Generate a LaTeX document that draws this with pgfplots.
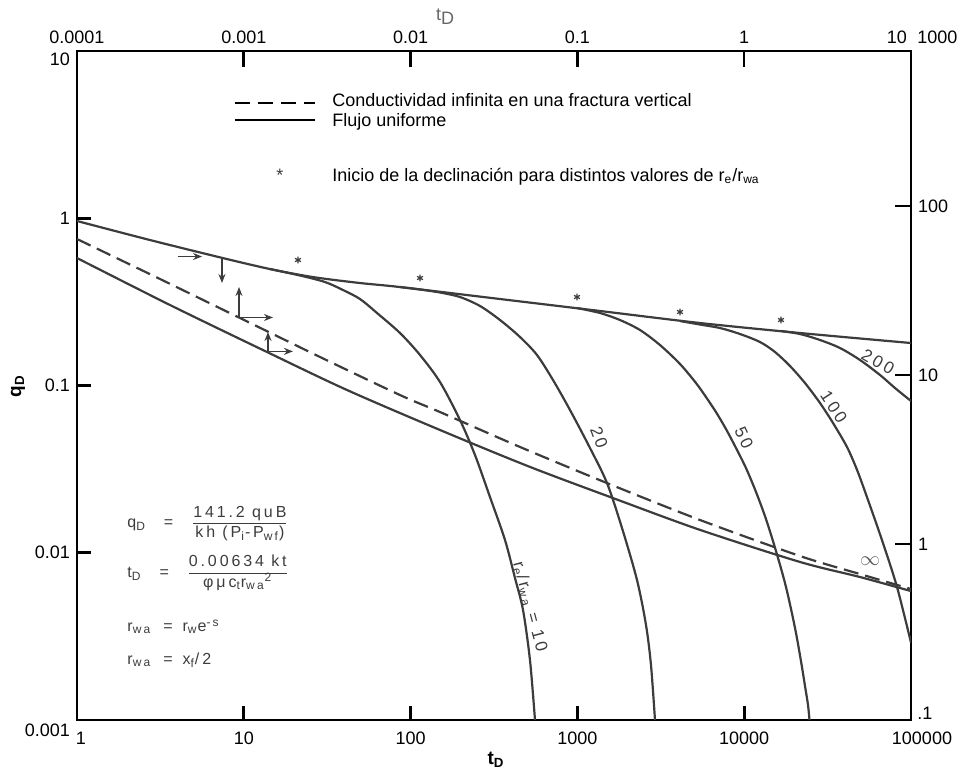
\documentclass[border=0pt]{standalone}
\usepackage{fontspec}
\setmainfont{Liberation Sans}
\newfontfamily\spaced[LetterSpace=18]{Liberation Sans}
\usepackage{pgfplots}
\pgfplotsset{compat=1.18}
\usetikzlibrary{arrows.meta}
\definecolor{ink}{HTML}{3C3C3C}
\tikzset{typecurve/.style={ink, line width=1.1pt, smooth, tension=0.5}}

\begin{document}
\begin{tikzpicture}[font=\fontsize{9}{11}\selectfont]
\useasboundingbox (-38.5pt,-28pt) rectangle (444pt,360pt);

% secondary scales (top and right)
\begin{loglogaxis}[
  at={(0,0)}, anchor=south west,
  scale only axis, width=417pt, height=334.5pt,
  axis line style={line width=1.3pt},
  tick style={line width=1.3pt, black},
  tick align=inside,
  major tick length=8pt,
  xminorticks=false, yminorticks=false,
  tick label style={font=\fontsize{9}{11}\selectfont},
  xmin=0.0001, xmax=10, ymin=0.09091, ymax=826.3,
  xtick pos=right, xticklabel pos=right,
  ytick pos=right, yticklabel pos=right,
  xtick={0.0001,0.001,0.01,0.1,1,10},
  xticklabels={0.0001,0.001,0.01,0.1,1,10\hspace*{14pt}},
  ytick={1,10,100}, yticklabels={1,10,100},
  clip=false,
]
\node[anchor=west, inner sep=3pt] at (axis cs:10,0.1) {.1};
\node[anchor=west, inner sep=3pt] at (axis cs:10,1000) {1000};
\end{loglogaxis}

% main scales: q_D versus t_D
\begin{loglogaxis}[
  at={(0,0)}, anchor=south west,
  scale only axis, width=417pt, height=334.5pt,
  axis line style={line width=1.3pt},
  tick style={line width=1.3pt, black},
  tick align=inside,
  major tick length=7pt,
  xminorticks=false, yminorticks=false,
  tick label style={font=\fontsize{9}{11}\selectfont},
  xmin=1, xmax=100000, ymin=0.001, ymax=10,
  xtick pos=left, ytick pos=left,
  xtick={1,10,100,1000,10000,100000},
  xticklabels={\hspace*{4pt}1,10,100,1000,10000,\hspace*{11pt}100000},
  ytick={0.001,0.01,0.1,1,10},
  yticklabels={\raisebox{-5pt}[6pt][0pt]{0.001},0.01,0.1,1,\raisebox{-4pt}[6pt][0pt]{10}},
  xticklabel style={yshift=-2.5pt},
  clip mode=individual,
]
% transient envelope (uniform flux, upper branch)
\addplot[typecurve] coordinates {(1,0.963) (2.74,0.741) (7.50,0.578) (14.36,0.497) (26.0,0.445) (49.7,0.410) (86.4,0.388) (343.6,0.329) (1366,0.279) (5433,0.2364) (21600,0.206) (100000,0.1795)};

% depletion stems for re/rwa = 10, 20, 50, 100, 200
\addplot[typecurve] coordinates {(14.36,0.497) (21.73,0.4546) (30.68,0.4157) (39.33,0.3724) (49.73,0.3290) (62.89,0.2714) (86.41,0.2060) (113.9,0.1522) (150.1,0.1049) (197.8,0.0622) (243.3,0.0384) (299.2,0.02154) (368.1,0.01192) (422.6,0.00706) (472.0,0.00455) (519.7,0.00228) (556.9,0.001)};
\addplot[typecurve] coordinates {(86.41,0.3880) (113.9,0.3750) (150.1,0.3598) (197.8,0.3381) (260.7,0.2988) (343.6,0.2464) (452.8,0.1950) (572.5,0.1522) (714.1,0.1079) (902.8,0.0714) (1190,0.0423) (1505,0.0261) (1851,0.01406) (2277,0.00687) (2578,0.00370) (2762,0.00213) (2919,0.001)};
\addplot[typecurve] coordinates {(994.5,0.2906) (1366,0.2714) (1800,0.2464) (2373,0.2147) (3128,0.1746) (4122,0.1345) (5140,0.1035) (5902,0.0853) (6774,0.0694) (7780,0.0549) (8931,0.0423) (10250,0.0321) (11770,0.0231) (13510,0.0159) (15510,0.01024) (17810,0.00624) (20170,0.00355) (21900,0.00225) (23140,0.00160) (24130,0.00123) (24630,0.001)};
\addplot[typecurve] coordinates {(4122,0.2430) (5433,0.2315) (7161,0.2207) (9436,0.2032) (12436,0.1820) (15300,0.1586) (18820,0.1308) (23140,0.1035) (28480,0.0786) (34070,0.0597) (41330,0.0429) (47470,0.0313) (54480,0.0215) (67010,0.0119) (82440,0.00624) (100000,0.00290)};
\addplot[typecurve] coordinates {(16620,0.2118) (21600,0.2032) (28480,0.1871) (37530,0.1676) (49450,0.1421) (65190,0.1156) (80190,0.0966) (100000,0.0808)};

% infinite-conductivity vertical fracture
\addplot[typecurve, dash pattern=on 7.5pt off 3.5pt] coordinates {(1,0.7515) (3.146,0.4333) (9.489,0.2533) (28.63,0.1481) (86.41,0.0877) (150.1,0.0694) (452.8,0.0429) (1505,0.0261) (5433,0.0157) (21600,0.00956) (49450,0.00746) (100000,0.00607)};
% uniform flux, lower branch
\addplot[typecurve] coordinates {(1,0.5784) (3.611,0.3029) (13.78,0.1586) (41.57,0.0940) (150.1,0.0542) (519.7,0.0326) (1751,0.0207) (5433,0.0137) (21600,0.00881) (49450,0.00716) (100000,0.00590)};

% start of decline for each re/rwa
\addplot[only marks, mark=asterisk, mark size=1.7pt, ink, mark options={line width=0.6pt}] coordinates {(21.13,0.5627) (113.9,0.4393) (994.5,0.3381) (4122,0.2751) (16620,0.2464)};

% match-point arrows
\begin{scope}[ink, line width=0.7pt, -{Stealth[length=4.5pt,width=3.5pt]}]
\draw (axis cs:4.03,0.5906) -- (axis cs:5.62,0.5906);
\draw (axis cs:7.40,0.5784) -- (axis cs:7.40,0.4101);
\draw (axis cs:9.36,0.2550) -- (axis cs:9.36,0.388);
\draw (axis cs:9.36,0.2550) -- (axis cs:14.96,0.2550);
\draw (axis cs:13.97,0.160) -- (axis cs:13.97,0.2089);
\draw (axis cs:13.97,0.160) -- (axis cs:19.72,0.160);
\end{scope}

% curve labels
\begin{scope}[ink, font=\spaced\fontsize{8.5}{10}\selectfont]
\node[rotate=-30] at (axis cs:63420,0.1382) {200};
\node[rotate=-57] at (axis cs:34500,0.0745) {100};
\node[rotate=-65] at (axis cs:9973,0.04855) {50};
\node[rotate=-70] at (axis cs:1348,0.0489) {20};
\node[rotate=-75] at (axis cs:519.7,0.00474) {r\textsubscript{e}/r\textsubscript{wa} = 10};
\end{scope}
\node[black!65] at (axis cs:56800,0.00893) {\fontsize{10}{12}\selectfont$\infty$};

% key
\draw[black, line width=1.4pt, dash pattern=on 7.5pt off 4pt] (rel axis cs:0.1894,0.9223) -- (rel axis cs:0.2854,0.9223);
\node[anchor=base west, inner sep=0pt] at (rel axis cs:0.3058,0.9178) {Conductividad infinita en una fractura vertical};
\draw[black, line width=1.4pt] (rel axis cs:0.1894,0.8969) -- (rel axis cs:0.2854,0.8969);
\node[anchor=base west, inner sep=0pt] at (rel axis cs:0.3058,0.8879) {Flujo uniforme};
\node[anchor=base, inner sep=0pt, ink] at (rel axis cs:0.2434,0.805) {*};
\node[anchor=base west, inner sep=0pt] at (rel axis cs:0.3058,0.805) {Inicio de la declinación para distintos valores de r\textsubscript{e}/r\textsubscript{wa}};

% definitions
\begin{scope}[ink, font=\spaced\fontsize{8}{9.5}\selectfont]
\node[anchor=west, inner sep=0pt] at (rel axis cs:0.06,0.2935) {q\textsubscript{D}\hspace{9pt}=\hspace{10pt}\begin{tabular}{@{}c@{}}141.2 quB\\\hline kh (P\textsubscript{i}-P\textsubscript{wf})\end{tabular}};
\node[anchor=west, inner sep=0pt] at (rel axis cs:0.06,0.2192) {t\textsubscript{D}\hspace{9pt}=\hspace{10pt}\begin{tabular}{@{}c@{}}0.00634 kt\\\hline φμc\textsubscript{t}r\textsubscript{wa}\textsuperscript{2}\end{tabular}};
\node[anchor=west, inner sep=0pt] at (rel axis cs:0.06,0.139) {r\textsubscript{wa}\hspace{6pt}=\hspace{5pt}r\textsubscript{w}e\textsuperscript{-s}};
\node[anchor=west, inner sep=0pt] at (rel axis cs:0.06,0.0897) {r\textsubscript{wa}\hspace{6pt}=\hspace{5pt}x\textsubscript{f}/2};
\end{scope}
\end{loglogaxis}

% axis titles
\node[font=\bfseries\fontsize{9.5}{11}\selectfont] at (209.5pt,-20pt) {t\textsubscript{D}};
\node[font=\bfseries\fontsize{9.5}{11}\selectfont, rotate=90] at (-29.5pt,167pt) {q\textsubscript{D}};
\node[black!60, font=\fontsize{9}{11}\selectfont] at (184pt,351.5pt) {t\raisebox{-2pt}{D}};
\end{tikzpicture}
\end{document}
